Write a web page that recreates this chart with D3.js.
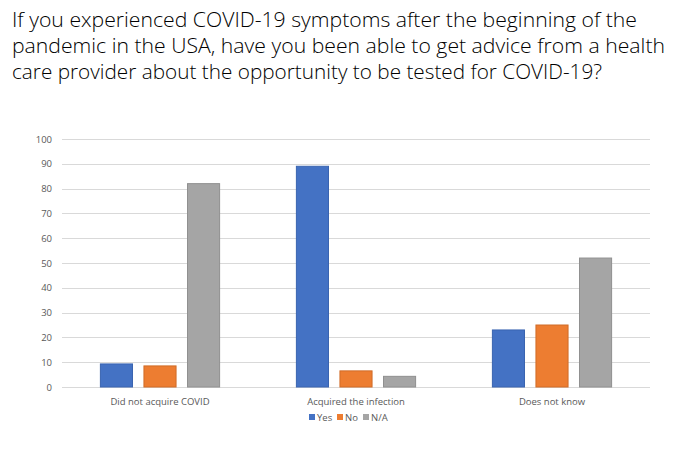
<!DOCTYPE html>
<html><head><meta charset="utf-8">
<script src="https://cdn.jsdelivr.net/npm/d3@7"></script>
<style>body{margin:0;background:#fff}svg{display:block}</style>
</head><body>
<svg id="c" width="700" height="449"></svg>
<script>
const titleLines = [
  "If you experienced COVID-19 symptoms after the beginning of the",
  "pandemic in the USA, have you been able to get advice from a health",
  "care provider about the opportunity to be tested for COVID-19?"
];
const categories = ["Did not acquire COVID", "Acquired the infection", "Does not know"];
const seriesNames = ["Yes", "No", "N/A"];
const yesValues = [9.3, 89, 23];
const noValues = [8.5, 6.5, 25];
const naValues = [82, 4.3, 52];
const yTicks = [0,10,20,30,40,50,60,70,80,90,100];
const colors = ["#4472C4", "#ED7D31", "#A5A5A5"];
const strokes = ["#3A64B0", "#D06C28", "#909090"];

const svg = d3.select("#c");
const pLeft = 62, pRight = 650, pTop = 139, pBottom = 387;

const t = svg.append("g");
titleLines.forEach((l, i) => {
  t.append("text").attr("x", 12).attr("y", 27 + i * 26)
    .attr("font-family", "Open Sans, sans-serif").attr("font-weight", 300)
    .attr("font-size", 21).attr("fill", "#000").text(l);
});
const targetW = [625, 653, 590];
t.selectAll("text").each(function(d, i){
  d3.select(this).attr("textLength", targetW[i]).attr("lengthAdjust", "spacingAndGlyphs");
});

const y = d3.scaleLinear().domain([0, 100]).range([pBottom, pTop]);
const x0 = d3.scaleBand().domain(categories).range([pLeft, pRight]);
const x1 = d3.scaleBand().domain(seriesNames).range([0, x0.bandwidth()]).paddingInner(0.24).paddingOuter(0.87);

svg.append("g").selectAll("line").data(yTicks).join("line")
  .attr("x1", pLeft).attr("x2", pRight).attr("y1", d => Math.round(y(d)) + 0.5).attr("y2", d => Math.round(y(d)) + 0.5)
  .attr("stroke", "#D9D9D9").attr("stroke-width", 1);

svg.append("g").selectAll("text").data(yTicks).join("text")
  .attr("x", 52).attr("y", d => y(d) + 3.5).attr("text-anchor", "end")
  .attr("font-family", "Open Sans, sans-serif").attr("font-size", 9.5).attr("fill", "#595959").text(d => d);

const data = categories.map((c, i) => ({c, vals: [yesValues[i], noValues[i], naValues[i]]}));
const g = svg.append("g").selectAll("g").data(data).join("g").attr("transform", d => `translate(${x0(d.c)},0)`);
g.selectAll("rect").data(d => d.vals.map((v, j) => ({s: seriesNames[j], v, j}))).join("rect")
  .attr("x", d => x1(d.s) + 0.5).attr("width", x1.bandwidth() - 1)
  .attr("y", d => y(d.v)).attr("height", d => pBottom - y(d.v))
  .attr("fill", d => colors[d.j]).attr("stroke", d => strokes[d.j]).attr("stroke-width", 1);

svg.append("g").selectAll("text").data(categories).join("text")
  .attr("x", d => x0(d) + x0.bandwidth() / 2).attr("y", 405).attr("text-anchor", "middle")
  .attr("font-family", "Open Sans, sans-serif").attr("font-size", 9.5).attr("fill", "#595959").text(d => d);

const legX = [309, 337, 363];
const lg = svg.append("g").selectAll("g").data(seriesNames).join("g")
  .attr("transform", (d, i) => `translate(${legX[i]},0)`);
lg.append("rect").attr("x", 0).attr("y", 414).attr("width", 6).attr("height", 6).attr("fill", (d, i) => colors[i]);
lg.append("text").attr("x", 8).attr("y", 420.5).attr("font-family", "Open Sans, sans-serif")
  .attr("font-size", 9.5).attr("fill", "#595959").text(d => d);
</script>
</body></html>
